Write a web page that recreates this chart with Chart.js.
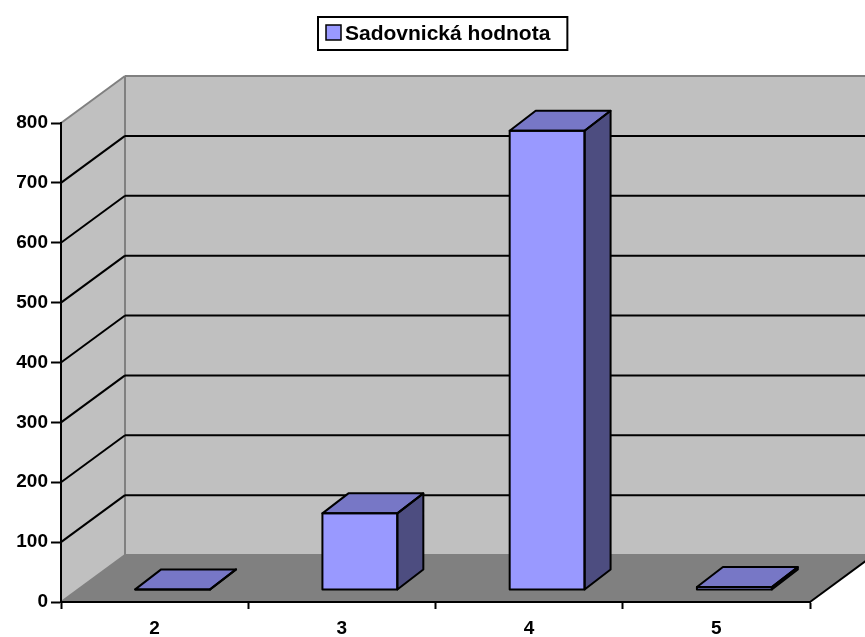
<!DOCTYPE html>
<html lang="cs">
<head>
<meta charset="utf-8">
<title>Sadovnická hodnota</title>
<script src="https://cdn.jsdelivr.net/npm/chart.js@4.4.1/dist/chart.umd.min.js"></script>
<style>
    html, body { margin: 0; padding: 0; background: #ffffff; }
    #chartBox { width: 865px; height: 637px; }
</style>
</head>
<body>
<div id="chartBox"><canvas id="valueChart" width="865" height="637"></canvas></div>
<script>
// ==============================
//  DATA
// ==============================

const categories = ["2", "3", "4", "5"];
const seriesLabel = "Sadovnická hodnota";
const seriesValues = [1, 128, 767, 5];
const yTicks = [0, 100, 200, 300, 400, 500, 600, 700, 800];

// ==============================
//  STYLE
// ==============================

const FONT_FAMILY = "'Liberation Sans', Arial, sans-serif";

const COLOR_FRONT = "#9999ff";
const COLOR_TOP = "#7777c6";
const COLOR_SIDE = "#4d4d80";
const COLOR_WALL = "#c0c0c0";
const COLOR_FLOOR = "#808080";
const COLOR_EDGE = "#808080";

// Depth of the 3D box: front plane -> back wall
const WALL_DX = 64;
const WALL_DY = -47;

// Bars stand a bit behind the front plane
const BAR_SHIFT_X = 18;
const BAR_SHIFT_Y = -12;

// Depth of a single bar
const BAR_DX = 26;
const BAR_DY = -20;

// ==============================
//  HELPERS
// ==============================

function fillPolygon(ctx, points, color) {
    ctx.beginPath();
    ctx.moveTo(points[0][0], points[0][1]);
    for (let i = 1; i < points.length; i++) {
        ctx.lineTo(points[i][0], points[i][1]);
    }
    ctx.closePath();
    ctx.fillStyle = color;
    ctx.fill();
}

function strokePolygon(ctx, points) {
    ctx.beginPath();
    ctx.moveTo(points[0][0], points[0][1]);
    for (let i = 1; i < points.length; i++) {
        ctx.lineTo(points[i][0], points[i][1]);
    }
    ctx.closePath();
    ctx.stroke();
}

function drawLine(ctx, x1, y1, x2, y2) {
    ctx.beginPath();
    ctx.moveTo(x1, y1);
    ctx.lineTo(x2, y2);
    ctx.stroke();
}

// ==============================
//  PLUGINS
// ==============================

// Walls, floor and gridlines of the 3D box, painted under everything else
const wallsPlugin = {
    id: "walls3d",
    beforeDraw(chart) {
        const ctx = chart.ctx;
        const area = chart.chartArea;
        const yScale = chart.scales.y;

        const x0 = area.left;
        const x1 = area.right;
        const yTop = yScale.getPixelForValue(yTicks[yTicks.length - 1]);
        const yBase = yScale.getPixelForValue(0);

        ctx.save();

        // back wall
        fillPolygon(ctx, [
            [x0 + WALL_DX, yTop + WALL_DY],
            [x1 + WALL_DX, yTop + WALL_DY],
            [x1 + WALL_DX, yBase + WALL_DY],
            [x0 + WALL_DX, yBase + WALL_DY]
        ], COLOR_WALL);

        // left wall
        fillPolygon(ctx, [
            [x0, yTop],
            [x0 + WALL_DX, yTop + WALL_DY],
            [x0 + WALL_DX, yBase + WALL_DY],
            [x0, yBase]
        ], COLOR_WALL);

        // floor
        fillPolygon(ctx, [
            [x0, yBase],
            [x1, yBase],
            [x1 + WALL_DX, yBase + WALL_DY],
            [x0 + WALL_DX, yBase + WALL_DY]
        ], COLOR_FLOOR);

        // gray outline of the walls
        ctx.strokeStyle = COLOR_EDGE;
        ctx.lineWidth = 2;
        drawLine(ctx, x0, yTop, x0 + WALL_DX, yTop + WALL_DY);
        drawLine(ctx, x0 + WALL_DX, yTop + WALL_DY, x1 + WALL_DX, yTop + WALL_DY);
        drawLine(ctx, x0 + WALL_DX, yTop + WALL_DY, x0 + WALL_DX, yBase + WALL_DY);
        drawLine(ctx, x0, yBase, x0 + WALL_DX, yBase + WALL_DY);
        drawLine(ctx, x0 + WALL_DX, yBase + WALL_DY, x1 + WALL_DX, yBase + WALL_DY);

        // gridlines: diagonal on the left wall, then flat on the back wall
        ctx.strokeStyle = "#000000";
        ctx.lineWidth = 2;
        yTicks.forEach(function (value, index) {
            if (index === 0 || index === yTicks.length - 1) {
                return;
            }
            const y = yScale.getPixelForValue(value);
            drawLine(ctx, x0, y, x0 + WALL_DX, y + WALL_DY);
            drawLine(ctx, x0 + WALL_DX, y + WALL_DY, x1 + WALL_DX, y + WALL_DY);
        });

        // front-right edge of the floor
        drawLine(ctx, x1, yBase, x1 + WALL_DX, yBase + WALL_DY);

        ctx.restore();
    }
};

// Bars: Chart.js paints the front face (shifted into depth),
// this plugin adds the top and the side faces plus black outlines
const bars3dPlugin = {
    id: "bars3d",
    beforeDatasetsDraw(chart) {
        chart.ctx.save();
        chart.ctx.translate(BAR_SHIFT_X, BAR_SHIFT_Y);
    },
    afterDatasetsDraw(chart) {
        const ctx = chart.ctx;
        ctx.restore();

        const meta = chart.getDatasetMeta(0);
        ctx.save();
        ctx.lineWidth = 2;
        ctx.lineJoin = "round";
        ctx.strokeStyle = "#000000";

        meta.data.forEach(function (bar) {
            const p = bar.getProps(["x", "y", "base", "width"], true);
            const l = p.x - p.width / 2 + BAR_SHIFT_X;
            const r = p.x + p.width / 2 + BAR_SHIFT_X;
            const t = p.y + BAR_SHIFT_Y;
            const b = p.base + BAR_SHIFT_Y;

            const topFace = [[l, t], [r, t], [r + BAR_DX, t + BAR_DY], [l + BAR_DX, t + BAR_DY]];
            const sideFace = [[r, t], [r + BAR_DX, t + BAR_DY], [r + BAR_DX, b + BAR_DY], [r, b]];

            fillPolygon(ctx, topFace, COLOR_TOP);
            fillPolygon(ctx, sideFace, COLOR_SIDE);
            strokePolygon(ctx, topFace);
            strokePolygon(ctx, sideFace);
            ctx.strokeRect(l, t, r - l, b - t);
        });

        ctx.restore();
    }
};

// Framed legend above the plot
const legendBoxPlugin = {
    id: "legendBox",
    afterDraw(chart) {
        const ctx = chart.ctx;
        const label = chart.data.datasets[0].label;
        const color = chart.data.datasets[0].backgroundColor;

        ctx.save();
        ctx.font = "bold 21px " + FONT_FAMILY;
        const textWidth = ctx.measureText(label).width;

        const boxLeft = 318;
        const boxTop = 17;
        const boxHeight = 33;
        const boxWidth = textWidth + 44;

        ctx.strokeStyle = "#000000";
        ctx.lineWidth = 2;
        ctx.strokeRect(boxLeft, boxTop, boxWidth, boxHeight);

        // colored square
        ctx.fillStyle = color;
        ctx.fillRect(boxLeft + 8, boxTop + 8, 15, 15);
        ctx.lineWidth = 1.5;
        ctx.strokeRect(boxLeft + 8, boxTop + 8, 15, 15);

        ctx.fillStyle = "#000000";
        ctx.textBaseline = "middle";
        ctx.textAlign = "left";
        ctx.fillText(label, boxLeft + 27, boxTop + boxHeight / 2 + 1);
        ctx.restore();
    }
};

// ==============================
//  CHART
// ==============================

const axisFont = { family: FONT_FAMILY, size: 19, weight: "bold" };

new Chart(document.getElementById("valueChart"), {
    type: "bar",
    data: {
        labels: categories,
        datasets: [
            {
                label: seriesLabel,
                data: seriesValues,
                backgroundColor: COLOR_FRONT,
                borderWidth: 0,
                categoryPercentage: 1,
                barPercentage: 0.4
            }
        ]
    },
    options: {
        responsive: false,
        animation: false,
        devicePixelRatio: 1,
        layout: {
            padding: { top: 123, right: 55, bottom: 0, left: 0 }
        },
        plugins: {
            legend: { display: false },
            tooltip: { enabled: false }
        },
        scales: {
            x: {
                afterFit: function (scale) {
                    scale.height = 35;
                },
                grid: {
                    offset: true,
                    drawOnChartArea: false,
                    tickLength: 7,
                    tickColor: "#000000",
                    tickWidth: 2
                },
                border: { display: true, color: "#000000", width: 2 },
                ticks: {
                    color: "#000000",
                    font: axisFont,
                    padding: 8,
                    maxRotation: 0
                }
            },
            y: {
                min: yTicks[0],
                max: yTicks[yTicks.length - 1],
                afterFit: function (scale) {
                    scale.width = 61;
                },
                afterBuildTicks: function (scale) {
                    scale.ticks = yTicks.map(function (v) { return { value: v }; });
                },
                grid: {
                    drawOnChartArea: false,
                    tickLength: 10,
                    tickColor: "#000000",
                    tickWidth: 2
                },
                border: { display: true, color: "#000000", width: 2 },
                ticks: {
                    color: "#000000",
                    font: axisFont,
                    padding: 3
                }
            }
        }
    },
    plugins: [wallsPlugin, bars3dPlugin, legendBoxPlugin]
});
</script>
</body>
</html>
